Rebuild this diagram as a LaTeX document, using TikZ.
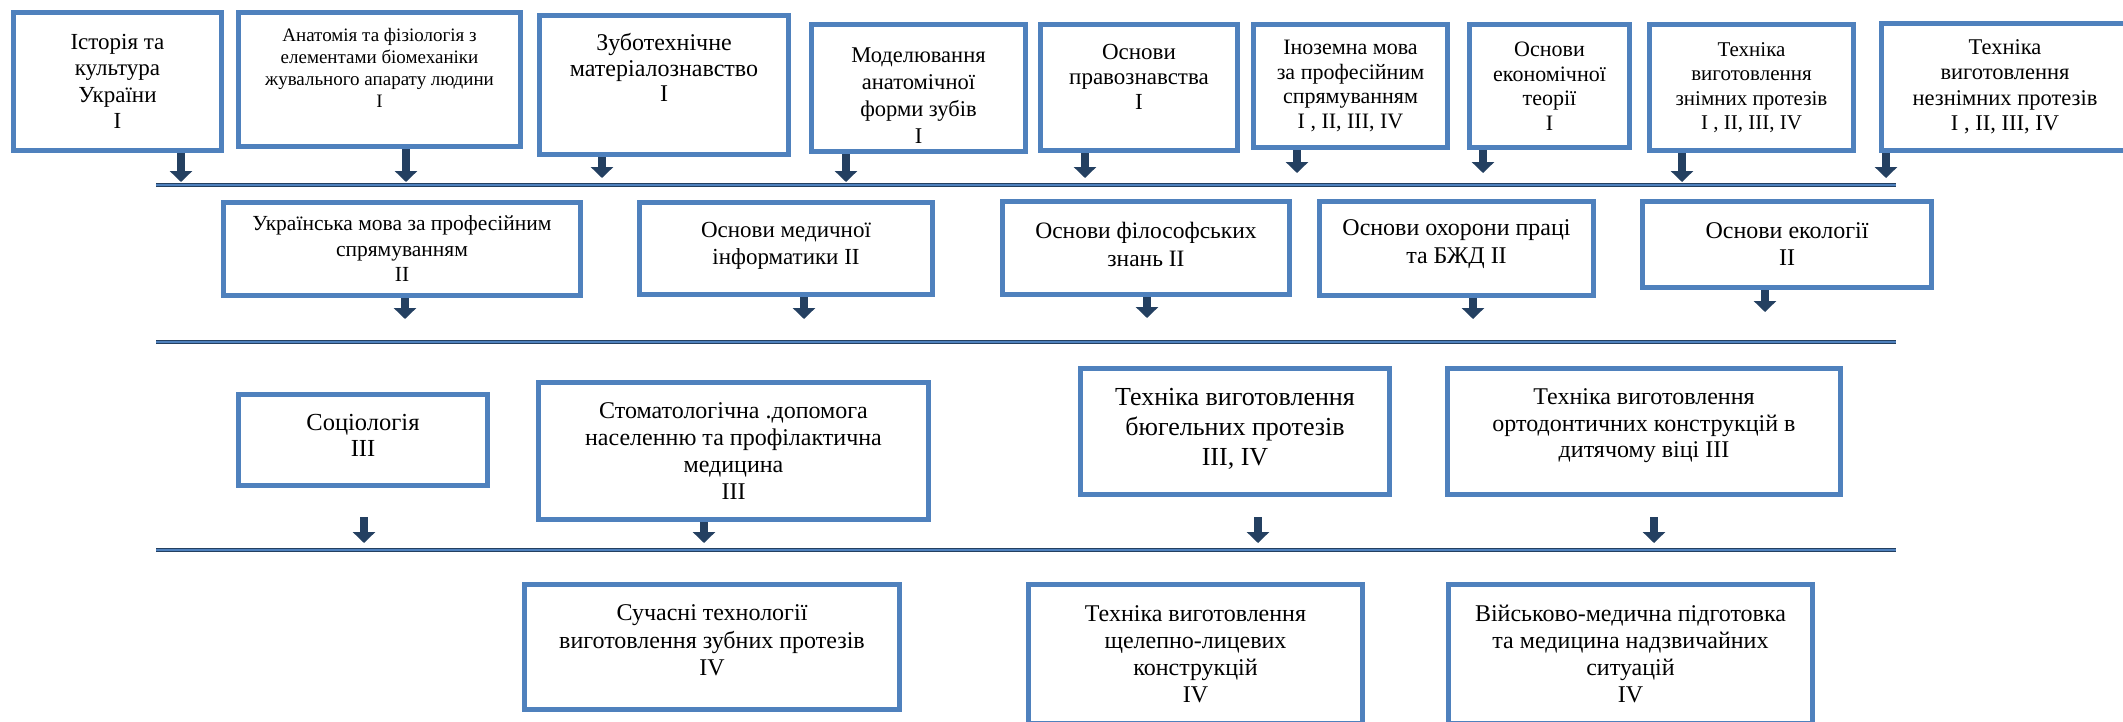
\documentclass[tikz,border=0pt]{standalone}
\usepackage{fontspec}
\setmainfont{Liberation Serif}
\usetikzlibrary{arrows.meta}
\definecolor{boxblue}{RGB}{79,129,189}
\definecolor{navy}{RGB}{36,64,97}
\newcommand\lowpad[1]{\rule[-#1pt]{0pt}{#1pt}}
\newcommand\highpad[1]{\rule{0pt}{#1pt}}

\begin{document}
\begin{tikzpicture}
  [x=1pt,y=-1pt,
   subj/.style={draw=boxblue,line width=5pt,align=center,inner sep=0pt},
   fs/.style 2 args={font=\fontsize{#1}{#2}\selectfont},
   bar/.style={draw=navy,line width=1.2pt,double=boxblue,double distance=2pt},
   blk/.style={draw=navy,line width=8pt,-{Triangle[width=22pt,length=11pt]}}]
  \useasboundingbox (0,0) rectangle (2123,721);
  \clip (0,0) rectangle (2123,721);

  \node[subj,fs={23}{26.5},minimum width=208,minimum height=138] (hist) at (117.5,81.5) {Історія та\\культура\\України\\I};
  \node[subj,fs={19}{22},minimum width=282,minimum height=134] (anat) at (379.5,79.5) {Анатомія та фізіологія з\\елементами біомеханіки\\жувального апарату людини\\I\lowpad{24}};
  \node[subj,fs={24}{25.5},minimum width=249,minimum height=139] (mat) at (664,85) {Зуботехнічне\\матеріалознавство\\I\lowpad{35}};
  \node[subj,fs={22.5}{27},minimum width=214,minimum height=127] (model) at (918.5,88) {\highpad{29}Моделювання\\анатомічної\\форми зубів\\I};
  \node[subj,fs={23}{25},minimum width=197,minimum height=126] (prav) at (1139,87.5) {Основи\\правознавства\\I\lowpad{21}};
  \node[subj,fs={22}{24.5},minimum width=194,minimum height=123] (lang) at (1350.5,86) {Іноземна мова\\за професійним\\спрямуванням\\I , II, III, IV};
  \node[subj,fs={22}{24.5},minimum width=160,minimum height=123] (econ) at (1549.5,86) {Основи\\економічної\\теорії\\I};
  \node[subj,fs={21}{24.5},minimum width=204,minimum height=126] (rem) at (1751.5,87.5) {Техніка\\виготовлення\\знімних протезів\\I , II, III, IV};
  \node[subj,fs={22.5}{25.5},minimum width=247,minimum height=127] (fix) at (2005,87) {Техніка\\виготовлення\\незнімних протезів\\I , II, III, IV};

  \node[subj,fs={21.5}{25.5},minimum width=357,minimum height=93] (ukr) at (402,249) {Українська мова за професійним\\спрямуванням\\II};
  \node[subj,fs={23}{27},minimum width=293,minimum height=92] (inf) at (786,248.5) {Основи медичної\\інформатики II\lowpad{10}};
  \node[subj,fs={23.5}{28},minimum width=287,minimum height=93] (phil) at (1146,248) {Основи філософських\\знань II\lowpad{8}};
  \node[subj,fs={24}{28},minimum width=274,minimum height=94] (safe) at (1456.5,248.5) {Основи охорони праці\\та БЖД II\lowpad{14}};
  \node[subj,fs={24}{27},minimum width=289,minimum height=86] (eco) at (1787,244.5) {Основи екології\\II};

  \node[subj,fs={24.5}{26},minimum width=249,minimum height=91] (soc) at (363,440) {Соціологія\\III\lowpad{10}};
  \node[subj,fs={24}{27},minimum width=390,minimum height=137] (stom) at (733.5,451) {Стоматологічна .допомога\\населенню та профілактична\\медицина\\III};
  \node[subj,fs={26}{30},minimum width=309,minimum height=126] (bug) at (1235,431.5) {Техніка виготовлення\\бюгельних протезів\\III, IV\lowpad{9}};
  \node[subj,fs={24}{26.5},minimum width=393,minimum height=126] (orth) at (1644,431.5) {Техніка виготовлення\\ортодонтичних конструкцій в\\дитячому віці III\lowpad{16}};

  \node[subj,fs={24}{27.5},minimum width=375,minimum height=125] (mod) at (712,647) {Сучасні технології\\виготовлення зубних протезів\\IV\lowpad{13}};
  \node[subj,fs={24}{27},minimum width=334,minimum height=139] (maxf) at (1195.5,654) {Техніка виготовлення\\щелепно-лицевих\\конструкцій\\IV};
  \node[subj,fs={24}{27},minimum width=364,minimum height=139] (mil) at (1630.5,654) {Військово-медична підготовка\\та медицина надзвичайних\\ситуацій\\IV};

  \coordinate (bar1w) at (156,185);
  \coordinate (bar1e) at (1896,185);
  \coordinate (bar2w) at (156,342);
  \coordinate (bar2e) at (1896,342);
  \coordinate (bar3w) at (156,550);
  \coordinate (bar3e) at (1896,550);
  \draw[bar] (bar1w) -- (bar1e);
  \draw[bar] (bar2w) -- (bar2e);
  \draw[bar] (bar3w) -- (bar3e);

  \coordinate (t1a) at (181,182);
  \coordinate (t1b) at (406,182);
  \coordinate (t1c) at (602,178);
  \coordinate (t1d) at (846,182);
  \coordinate (t1e) at (1085,178);
  \coordinate (t1f) at (1297,173);
  \coordinate (t1g) at (1483,173);
  \coordinate (t1h) at (1682,182);
  \coordinate (t1i) at (1886,178);
  \coordinate (t2a) at (405,319);
  \coordinate (t2b) at (804,319);
  \coordinate (t2c) at (1147,318);
  \coordinate (t2d) at (1473,319);
  \coordinate (t2e) at (1765,312);
  \coordinate (t3a) at (364,543);
  \coordinate (t3b) at (704,543);
  \coordinate (t3c) at (1258,543);
  \coordinate (t3d) at (1654,543);

\path
    (hist.south -| t1a) edge [blk] (t1a)
    (anat.south -| t1b) edge [blk] (t1b)
    (mat.south -| t1c) edge [blk] (t1c)
    (model.south -| t1d) edge [blk] (t1d)
    (prav.south -| t1e) edge [blk] (t1e)
    (lang.south -| t1f) edge [blk] (t1f)
    (econ.south -| t1g) edge [blk] (t1g)
    (rem.south -| t1h) edge [blk] (t1h)
    (fix.south -| t1i) edge [blk] (t1i)
    (ukr.south -| t2a) edge [blk] (t2a)
    (inf.south -| t2b) edge [blk] (t2b)
    (phil.south -| t2c) edge [blk] (t2c)
    (safe.south -| t2d) edge [blk] (t2d)
    (eco.south -| t2e) edge [blk] (t2e)
    (soc.south -| t3a) edge [blk,shorten <=29pt] (t3a)
    (stom.south -| t3b) edge [blk] (t3b)
    (bug.south -| t3c) edge [blk,shorten <=20pt] (t3c)
    (orth.south -| t3d) edge [blk,shorten <=20pt] (t3d)
    ;

\end{tikzpicture}
\end{document}
